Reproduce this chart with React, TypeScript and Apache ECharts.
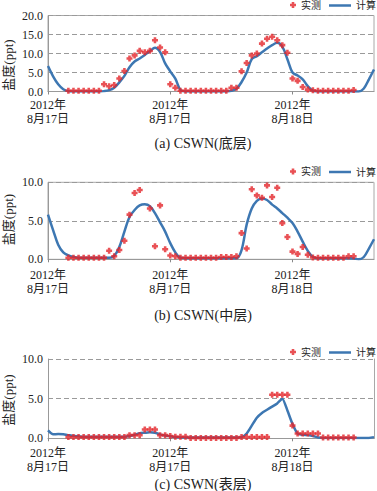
import React, { useEffect, useRef } from 'react';
import * as echarts from 'echarts';

// Time axis: half-hour steps from 2012-08-17 00:00 (hours)
const hours = [0,0.5,1,1.5,2,2.5,3,3.5,4,4.5,5,5.5,6,6.5,7,7.5,8,8.5,9,9.5,10,10.5,11,11.5,12,12.5,13,13.5,14,14.5,15,15.5,16,16.5,17,17.5,18,18.5,19,19.5,20,20.5,21,21.5,22,22.5,23,23.5,24,24.5,25,25.5,26,26.5,27,27.5,28,28.5,29,29.5,30,30.5,31,31.5,32];
const xTickHours = [0, 12, 24];
const xTickLabels = ['2012年\n8月17日', '2012年\n8月17日', '2012年\n8月18日'];

const calcA = [6.7,4.0,1.9,0.6,0.05,0,0,0,0,0,0,0.1,0.35,1.0,2.4,4.1,6.4,7.9,8.7,9.6,10.6,11.5,10.4,7.4,5.3,3.4,0.4,0,0,0,0,0,0,0,0,0,0.2,0.7,2.5,5.0,8.5,9.3,10.3,11.3,12.2,12.8,11.8,8.5,5.0,4.2,3.2,1.4,0.2,0,0,0,0,0,0,0,0,0,0.8,3.2,5.8];
const obsA = [null,null,null,null,0.2,0.2,0.2,0.2,0.2,0.2,0.2,1.9,1.4,1.7,3.4,5.4,8.7,9.5,10.7,10.3,10.7,13.5,11.6,10.3,1.9,1.0,0.2,0.2,0.2,0.2,0.2,0.2,0.2,0.2,0.2,0.2,1.0,1.0,5.3,7.5,9.5,10.0,12.6,13.9,14.4,13.5,12.2,10.2,3.4,2.8,1.2,0.5,0.3,0.2,0.2,0.2,0.2,0.2,0.2,0.2,0.4,null,null,null,null];

const calcB = [5.8,3.8,1.9,0.9,0.5,0.3,0.2,0.2,0.2,0.2,0.2,0.2,0.2,0.45,1.6,3.6,5.5,6.4,7.0,7.15,6.9,6.0,4.8,3.6,2.1,0.9,0.2,0.15,0.15,0.15,0.15,0.15,0.15,0.15,0.15,0.15,0.15,0.15,1.2,4.5,6.6,7.6,7.9,7.7,7.1,6.6,6.0,5.4,4.7,3.6,2.3,1.1,0.3,0.15,0.15,0.15,0.15,0.15,0.15,0.15,0.1,0.0,0.3,1.4,2.6];
const obsB = [null,null,null,null,0.2,0.2,0.2,0.2,0.2,0.2,0.2,0.2,1.1,0.4,1.2,2.4,5.8,8.6,9.0,null,6.6,1.7,7.0,1.3,0.5,0.4,0.2,0.2,0.2,0.2,0.2,0.2,0.2,0.2,0.3,0.3,0.3,0.4,3.4,1.4,9.1,8.3,8.0,9.6,8.1,9.3,4.7,2.9,1.0,0.7,1.6,0.6,0.25,0.2,0.2,0.2,0.2,0.2,0.2,0.4,0.4,null,null,null,null];

const calcC = [1.0,0.5,0.55,0.5,0.4,0.3,0.25,0.2,0.2,0.2,0.2,0.2,0.2,0.2,0.2,0.2,0.3,0.45,0.65,0.7,0.75,0.7,0.5,0.35,0.25,0.15,0.1,0.1,0.1,0.1,0.1,0.1,0.1,0.1,0.1,0.1,0.1,0.1,0.15,0.6,1.6,2.6,3.2,3.6,4.0,4.4,5.0,3.5,1.8,0.6,0.45,0.4,0.3,0.1,0.05,0.05,0.05,0.05,0.05,0.05,0.05,0.05,0.05,0.05,0.15];
const obsC = [null,null,null,null,0.15,0.15,0.15,0.15,0.15,0.15,0.15,0.15,0.15,0.15,0.15,0.15,0.4,0.4,0.4,1.1,1.1,1.1,0.4,0.4,0.3,0.2,0.2,0.2,0.05,0.05,0.05,0.05,0.05,0.05,0.05,0.05,0.05,0.05,0.15,0.15,0.15,0.15,0.15,0.15,5.5,5.5,5.5,5.5,1.6,0.6,0.6,0.6,0.6,0.6,0.1,0.1,0.1,0.1,0.1,0.1,0.1,null,null,null,null];

const yMaxes = [20, 10, 10];
const captions = ['(a) CSWN(底层)', '(b) CSWN(中层)', '(c) CSWN(表层)'];

const FONT = '"Liberation Serif", "Noto Sans CJK SC", serif';
const RED = '#e3262a';
const BLUE = '#3d77b2';
const PLUS = 'path://M2,0 L5,0 L5,2 L7,2 L7,5 L5,5 L5,7 L2,7 L2,5 L0,5 L0,2 L2,2 Z';

export default function App() {
  const ref = useRef<HTMLDivElement>(null);
  useEffect(() => {
    if (!ref.current) return;
    const chart = echarts.init(ref.current, undefined, { renderer: 'svg' });
    const grids = [
      { top: 15.5, height: 76, labelMargin: 7, legendTop: 0, yName: 65, cap: 143 },
      { top: 182.3, height: 77, labelMargin: 9, legendTop: 166.5, yName: 219.5, cap: 315 },
      { top: 359, height: 79.3, labelMargin: 8, legendTop: 347, yName: 400, cap: 484 },
    ];
    const cats = hours.map(String);
    const calcs = [calcA, calcB, calcC];
    const obss = [obsA, obsB, obsC];
    const option: any = {
      animation: false,
      backgroundColor: '#fff',
      grid: grids.map((g, i) => ({
        left: 48, width: 326, top: g.top, height: g.height,
        show: i < 2, borderColor: '#a8a8a8', borderWidth: 1,
      })),
      xAxis: grids.map((g, i) => ({
        type: 'category', gridIndex: i, data: cats, boundaryGap: false,
        axisLine: { show: true, lineStyle: { color: '#999', width: 1 } },
        axisTick: { show: true, interval: 23, length: 3, lineStyle: { color: '#888' } },
        axisLabel: {
          interval: 23, margin: g.labelMargin, fontSize: 12, lineHeight: 13.5,
          color: '#222', fontFamily: FONT,
          formatter: (v: string) => {
            const k = xTickHours.indexOf(Number(v));
            return k >= 0 ? xTickLabels[k] : '';
          },
        },
        splitLine: { show: false },
      })),
      yAxis: [
        ...grids.map((g, i) => ({
          type: 'value', gridIndex: i, min: 0, max: yMaxes[i], interval: 5,
          axisLine: { show: true, lineStyle: { color: '#999' } },
          axisTick: { show: false },
          axisLabel: { margin: 5, fontSize: 12, color: '#222', fontFamily: FONT, formatter: (v: number) => v.toFixed(1) },
          splitLine: { show: true, lineStyle: { type: [5, 3], color: '#9a9a9a', width: 1 } },
        })),
        {
          type: 'value', gridIndex: 2, position: 'right', min: 0, max: 10,
          axisLine: { show: true, lineStyle: { color: '#a8a8a8' } },
          axisTick: { show: false }, axisLabel: { show: false }, splitLine: { show: false },
        },
      ],
      legend: grids.flatMap((g) => [
        {
          data: [{ name: '实测', icon: PLUS }], left: 290, top: g.legendTop, padding: 0,
          itemWidth: 6, itemHeight: 6, selectedMode: false,
          textStyle: { fontSize: 10, color: '#222', fontFamily: FONT },
        },
        {
          data: [{ name: '计算', icon: 'rect' }], left: 329, top: g.legendTop + 0.5, padding: 0,
          itemWidth: 22, itemHeight: 2.5, selectedMode: false,
          textStyle: { fontSize: 10, color: '#222', fontFamily: FONT },
        },
      ]),
      series: grids.flatMap((g, i) => [
        {
          name: '计算', type: 'line', xAxisIndex: i, yAxisIndex: i, data: calcs[i],
          smooth: i === 2 ? 0.2 : 0.35, symbol: 'none', z: 2,
          lineStyle: { color: BLUE, width: 2.5 }, itemStyle: { color: BLUE },
        },
        {
          name: '实测', type: 'scatter', xAxisIndex: i, yAxisIndex: i, data: obss[i],
          symbol: PLUS, symbolSize: 6, z: 3, itemStyle: { color: RED },
        },
      ]),
      graphic: grids.flatMap((g, i) => [
        {
          type: 'text', x: 8, y: g.yName, rotation: Math.PI / 2,
          style: { text: '盐度(ppt)', fontSize: 13, fill: '#222', fontFamily: FONT, textAlign: 'center', textVerticalAlign: 'middle' },
        },
        {
          type: 'text', x: 203, y: g.cap,
          style: { text: captions[i], fontSize: 14, fill: '#222', fontFamily: FONT, textAlign: 'center', textVerticalAlign: 'middle' },
        },
      ]),
    };
    chart.setOption(option);
    return () => chart.dispose();
  }, []);
  return (
    <div
      ref={ref}
      style={{ position: 'fixed', left: 0, top: 0, width: 377, height: 491, background: '#fff' }}
    />
  );
}
